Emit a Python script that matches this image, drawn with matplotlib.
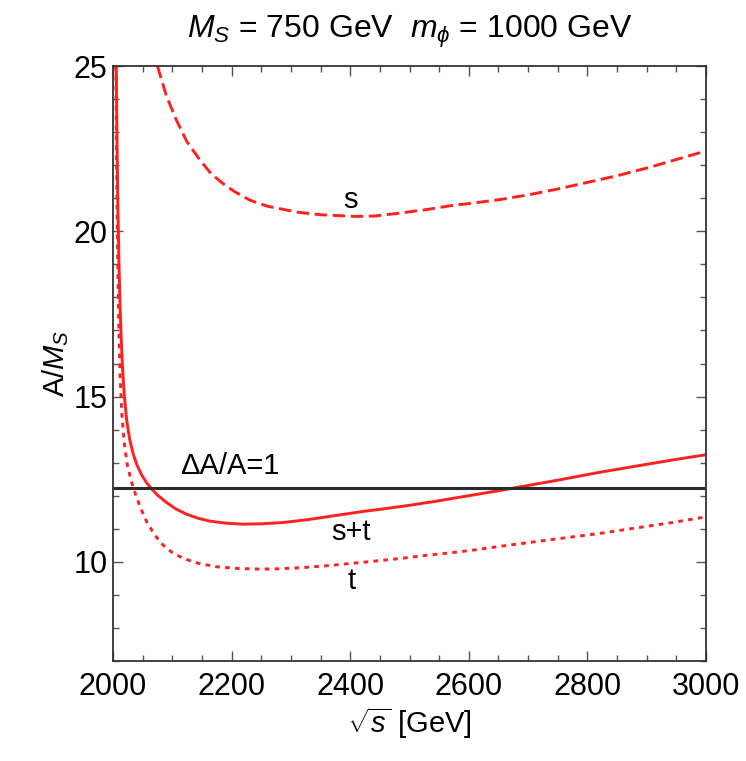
import matplotlib
matplotlib.use("Agg")
import matplotlib.pyplot as plt
from matplotlib.ticker import MultipleLocator

plt.rcParams['font.family'] = ['Liberation Sans', 'DejaVu Sans']
plt.rcParams['mathtext.fontset'] = 'custom'
plt.rcParams['mathtext.rm'] = 'Liberation Sans'
plt.rcParams['mathtext.it'] = 'Liberation Sans:italic'
plt.rcParams['mathtext.bf'] = 'Liberation Sans:bold'

# s-channel only (dashed)
s_x = [2075, 2090, 2107, 2125, 2147, 2165, 2185, 2205, 2231, 2260, 2310, 2350,
       2408, 2440, 2484, 2530, 2568, 2610, 2653, 2700, 2750, 2793, 2850, 2906,
       2950, 3000]
s_y = [25.0, 24.1, 23.36, 22.7, 22.15, 21.75, 21.45, 21.2, 20.94, 20.76, 20.58,
       20.5, 20.45, 20.46, 20.55, 20.66, 20.77, 20.86, 20.96, 21.1, 21.28, 21.45,
       21.68, 21.94, 22.17, 22.43]

# s + t channels (solid)
st_x = [2005.5, 2006.5, 2008, 2010, 2012, 2014, 2016, 2019, 2023, 2028, 2034, 2040,
        2048, 2056, 2066, 2075, 2090, 2105, 2124, 2145, 2164, 2190, 2219, 2250,
        2287, 2330, 2371, 2420, 2455, 2500, 2540, 2600, 2653, 2700, 2750, 2821,
        2900, 2950, 3000]
st_y = [25.0, 23.2, 21.0, 19.1, 17.7, 16.7, 15.9, 15.05, 14.3, 13.72, 13.27, 12.95,
        12.64, 12.41, 12.19, 12.02, 11.8, 11.61, 11.44, 11.31, 11.23, 11.17, 11.14,
        11.15, 11.19, 11.28, 11.39, 11.52, 11.60, 11.71, 11.82, 12.00, 12.16,
        12.31, 12.47, 12.71, 12.95, 13.10, 13.24]

# t-channel only (dotted)
t_x = [2004.8, 2005.8, 2007, 2008.5, 2010, 2012, 2015, 2019, 2024, 2030, 2036, 2046,
       2057, 2070, 2085, 2100, 2119, 2145, 2175, 2210, 2248, 2280, 2315, 2360,
       2400, 2440, 2484, 2530, 2563, 2610, 2653, 2700, 2760, 2821, 2880, 2940, 3000]
t_y = [25.0, 22.6, 20.4, 18.5, 17.0, 15.6, 14.45, 13.6, 12.95, 12.5, 12.15, 11.65,
       11.21, 10.82, 10.5, 10.28, 10.1, 9.95, 9.85, 9.8, 9.78, 9.79, 9.82, 9.88,
       9.95, 10.02, 10.1, 10.2, 10.26, 10.36, 10.47, 10.58, 10.72, 10.86, 11.02,
       11.18, 11.36]

# unitarity bound Delta A / A = 1
bound = 12.22

red = '#ff2020'
lw = 2.1

fig = plt.figure(figsize=(7.46, 7.61), dpi=100)
ax = fig.add_axes([113 / 746, 1 - 661 / 761, (706 - 113) / 746, (661 - 66) / 761])

ax.plot(s_x, s_y, color=red, lw=lw, dashes=(4.3, 1.9), dash_capstyle='butt')
ax.plot(st_x, st_y, color=red, lw=lw)
ax.plot(t_x, t_y, color=red, lw=lw, dashes=(1.6, 1.8), dash_capstyle='butt')
ax.axhline(bound, color='#2b2b2b', lw=2.2)

fs = 21
ax.text(2400, 20.94, 's', fontsize=fs, ha='center', va='center')
ax.text(2402, 10.89, 's+t', fontsize=fs, ha='center', va='center')
ax.text(2402, 9.42, 't', fontsize=fs, ha='center', va='center')
ax.text(2113, 12.9, r'ΔA/A=1', fontsize=fs, ha='left', va='center')

ax.set_xlim(2000, 3000)
ax.set_ylim(7, 25)
ax.xaxis.set_major_locator(MultipleLocator(200))
ax.xaxis.set_minor_locator(MultipleLocator(50))
ax.yaxis.set_major_locator(MultipleLocator(5))
ax.yaxis.set_minor_locator(MultipleLocator(1))
ax.tick_params(which='both', direction='in', top=True, right=True,
               color='#555555', width=1.0, labelsize=22)
ax.tick_params(axis='x', pad=8)
ax.tick_params(axis='y', pad=4)
ax.tick_params(which='major', length=7)
ax.tick_params(which='minor', length=4)
for sp in ax.spines.values():
    sp.set_color('#333333')
    sp.set_linewidth(1.3)

ax.set_xlabel(r'$\sqrt{s}$ [GeV]', fontsize=21, labelpad=2)
ax.set_ylabel(r'A/$M_S$', fontsize=21, labelpad=2)
ax.set_title(r'$M_S$ = 750 GeV  $m_\phi$ = 1000 GeV', fontsize=23, pad=20)

fig.savefig('out.png', dpi=100)
